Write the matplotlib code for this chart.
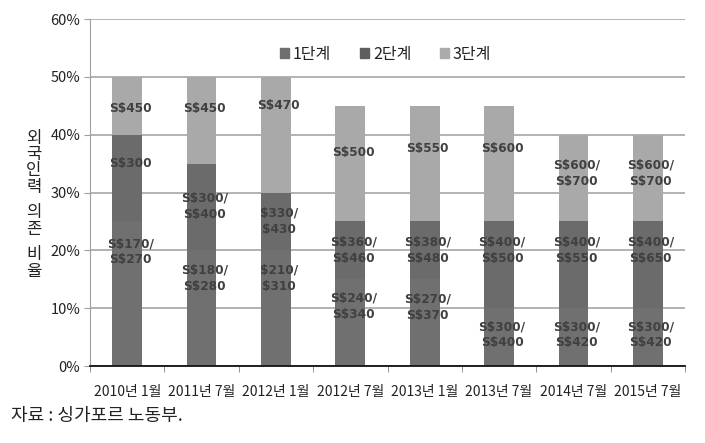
import matplotlib
matplotlib.use("Agg")
import matplotlib.pyplot as plt
import numpy as np

plt.rcParams['font.family'] = ['Noto Sans CJK KR', 'DejaVu Sans']

categories = ["2010년 1월", "2011년 7월", "2012년 1월", "2012년 7월",
              "2013년 1월", "2013년 7월", "2014년 7월", "2015년 7월"]
series_names = ["1단계", "2단계", "3단계"]
# segment heights (%)
tier1 = [25, 20, 20, 15, 15, 10, 10, 10]
tier2 = [15, 15, 10, 10, 10, 15, 15, 15]
tier3 = [10, 15, 20, 20, 20, 20, 15, 15]

# levy labels
tier1_labels = ["S$170/\nS$270", "S$180/\nS$280", "$210/\n$310", "S$240/\nS$340",
                "S$270/\nS$370", "S$300/\nS$400", "S$300/\nS$420", "S$300/\nS$420"]
tier2_labels = ["S$300", "S$300/\nS$400", "$330/\n$430", "S$360/\nS$460",
                "S$380/\nS$480", "S$400/\nS$500", "S$400/\nS$550", "S$400/\nS$650"]
tier3_labels = ["S$450", "S$450", "S$470", "S$500", "S$550", "S$600",
                "S$600/\nS$700", "S$600/\nS$700"]

# label placement (y, %)
tier1_label_y = [19.8, 15.2, 15.2, 10.3, 10.2, 5.4, 5.4, 5.4]
tier2_label_y = [35.0, 27.6, 25.0, 20.0, 20.0, 20.0, 20.0, 20.0]
tier3_label_y = [44.5, 44.5, 45.0, 37.0, 37.6, 37.6, 33.3, 33.3]

y_title = "외국인력 의존 비율"
source_text = "자료 : 싱가포르 노동부."

colors = ["#707070", "#6b6b6b", "#a9a9a9"]
legend_colors = ["#6e6e6e", "#5e5e5e", "#ababab"]

W, H = 705, 443
fig = plt.figure(figsize=(W / 100, H / 100), dpi=100)
ax = fig.add_axes([0.1277, 0.1738, 0.8439, 0.7832])

x = np.arange(len(categories))
w = 0.4
ax.bar(x, tier1, w, color=colors[0], zorder=2)
ax.bar(x, tier2, w, bottom=tier1, color=colors[1], zorder=2)
b2 = np.array(tier1) + np.array(tier2)
ax.bar(x, tier3, w, bottom=b2, color=colors[2], zorder=2)

lab_kw = dict(ha='center', va='center', fontsize=8.7, color='#404040',
              fontweight='bold', linespacing=1.3, zorder=3,
              family=['DejaVu Sans'])
for i in range(len(categories)):
    ax.text(x[i] + 0.04, tier1_label_y[i], tier1_labels[i], **lab_kw)
    ax.text(x[i] + 0.04, tier2_label_y[i], tier2_labels[i], **lab_kw)
    ax.text(x[i] + 0.04, tier3_label_y[i], tier3_labels[i], **lab_kw)

ax.set_xlim(-0.5, len(categories) - 0.5)
ax.set_ylim(0, 60)
ax.set_yticks(np.arange(0, 61, 10))
ax.set_yticklabels([f"{v}%" for v in range(0, 61, 10)], fontsize=10.5, color='#222222')
ax.yaxis.grid(True, color='#a6a6a6', linewidth=1.2, zorder=0)
ax.set_axisbelow(True)

ax.set_xticks(x)
ax.set_xticklabels(categories, fontsize=10, color='#222222')
ax.set_xticks(np.arange(-0.5, len(categories), 1), minor=True)
ax.tick_params(axis='x', which='major', length=0, pad=14)
ax.tick_params(axis='x', which='minor', length=4, color='#808080', direction='out')
ax.tick_params(axis='y', length=4, color='#a0a0a0', pad=3)

for s in ['top', 'right']:
    ax.spines[s].set_visible(False)
ax.spines['left'].set_color('#a0a0a0')
ax.spines['bottom'].set_color('#111111')
ax.spines['bottom'].set_linewidth(1.3)

# vertical stacked (upright) y-axis title
ypix = 138.0
for ch in y_title:
    if ch == " ":
        ypix += 9.0
        continue
    fig.text(34 / W, 1 - ypix / H, ch, fontsize=12, color='#222222',
             ha='center', va='center')
    ypix += 16.5

handles = [plt.Rectangle((0, 0), 1, 1, color=c) for c in legend_colors]
leg = ax.legend(handles, series_names, loc='upper center', bbox_to_anchor=(0.497, 0.965),
                ncol=3, frameon=False, fontsize=11.5, handlelength=0.55, handleheight=0.55,
                handletextpad=0.25, columnspacing=1.8)
for t in leg.get_texts():
    t.set_color('#222222')

fig.text(0.015, 0.062, source_text, fontsize=13, color='#222222',
         ha='left', va='center')

fig.savefig("out.png", dpi=100)
